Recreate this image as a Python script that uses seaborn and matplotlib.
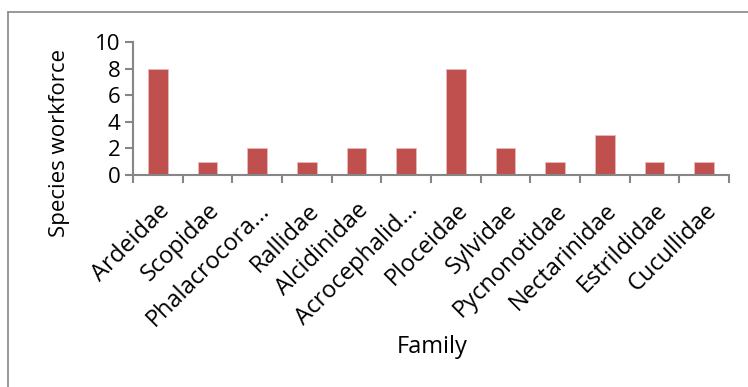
import matplotlib
matplotlib.use("Agg")
import matplotlib.pyplot as plt
import seaborn as sns
import pandas as pd
import numpy as np
from matplotlib.lines import Line2D

families = ["Ardeidae", "Scopidae", "Phalacrocora...", "Rallidae", "Alcidinidae",
            "Acrocephalid...", "Ploceidae", "Sylvidae", "Pycnonotidae",
            "Nectarinidae", "Estrildidae", "Cucullidae"]
workforce = [8, 1, 2, 1, 2, 2, 8, 2, 1, 3, 1, 1]
yticks = [0, 2, 4, 6, 8, 10]

sns.set_theme(style="white")
plt.rcParams['font.family'] = ['Open Sans', 'DejaVu Sans']
plt.rcParams['text.color'] = 'black'
plt.rcParams['axes.labelcolor'] = 'black'
plt.rcParams['xtick.labelcolor'] = 'black'
plt.rcParams['ytick.labelcolor'] = 'black'

FS = 16

df = pd.DataFrame({"Family": families, "Species workforce": workforce})

fig = plt.figure(figsize=(7.48, 3.87), dpi=100)
ax = fig.add_axes([133/748, 1-175/387, (729-133)/748, (175-42)/387])

sns.barplot(data=df, x="Family", y="Species workforce", color="#C0504D",
            saturation=1, width=0.4, edgecolor="#E6B9B8", linewidth=0.6, ax=ax)
ax.set_xlim(-0.5, len(families) - 0.5)
ax.set_ylim(0, 10)
ax.set_yticks(yticks)
ax.set_yticklabels([str(t) for t in yticks], fontsize=FS)

axis_col = "#868686"
for s in ["top", "right"]:
    ax.spines[s].set_visible(False)
for s in ["left", "bottom"]:
    ax.spines[s].set_color(axis_col)
    ax.spines[s].set_linewidth(1.5)

ax.set_xticks(np.arange(len(families)))
ax.set_xticklabels(families, rotation=45, ha="right", rotation_mode="anchor", fontsize=17)
ax.tick_params(axis="x", which="major", length=0, pad=17)
ax.set_xticks(np.arange(len(families) + 1) - 0.5, minor=True)
ax.tick_params(axis="x", which="minor", length=6, width=1.5, color=axis_col, direction="out", bottom=True)
ax.tick_params(axis="y", which="major", length=6, width=1.5, color=axis_col, direction="out", left=True, pad=3)

ax.set_xlabel("Family", fontsize=17)
ax.set_ylabel("Species workforce", fontsize=FS)
ax.xaxis.set_label_coords((432-133)/(729-133), -(347-175)/(175-42))
ax.xaxis.label.set_va("center")
ax.yaxis.set_label_coords(-(133-60)/(729-133), 1-(143-42)/(175-42))
ax.yaxis.label.set_va("center")

# outer chart border (partial)
fig.add_artist(Line2D([8/748, 8/748], [0, 1-12/387], transform=fig.transFigure, color="#868686", lw=1.2))
fig.add_artist(Line2D([8/748, 1], [1-12/387, 1-12/387], transform=fig.transFigure, color="#868686", lw=1.2))

fig.savefig("out.png", dpi=100)
